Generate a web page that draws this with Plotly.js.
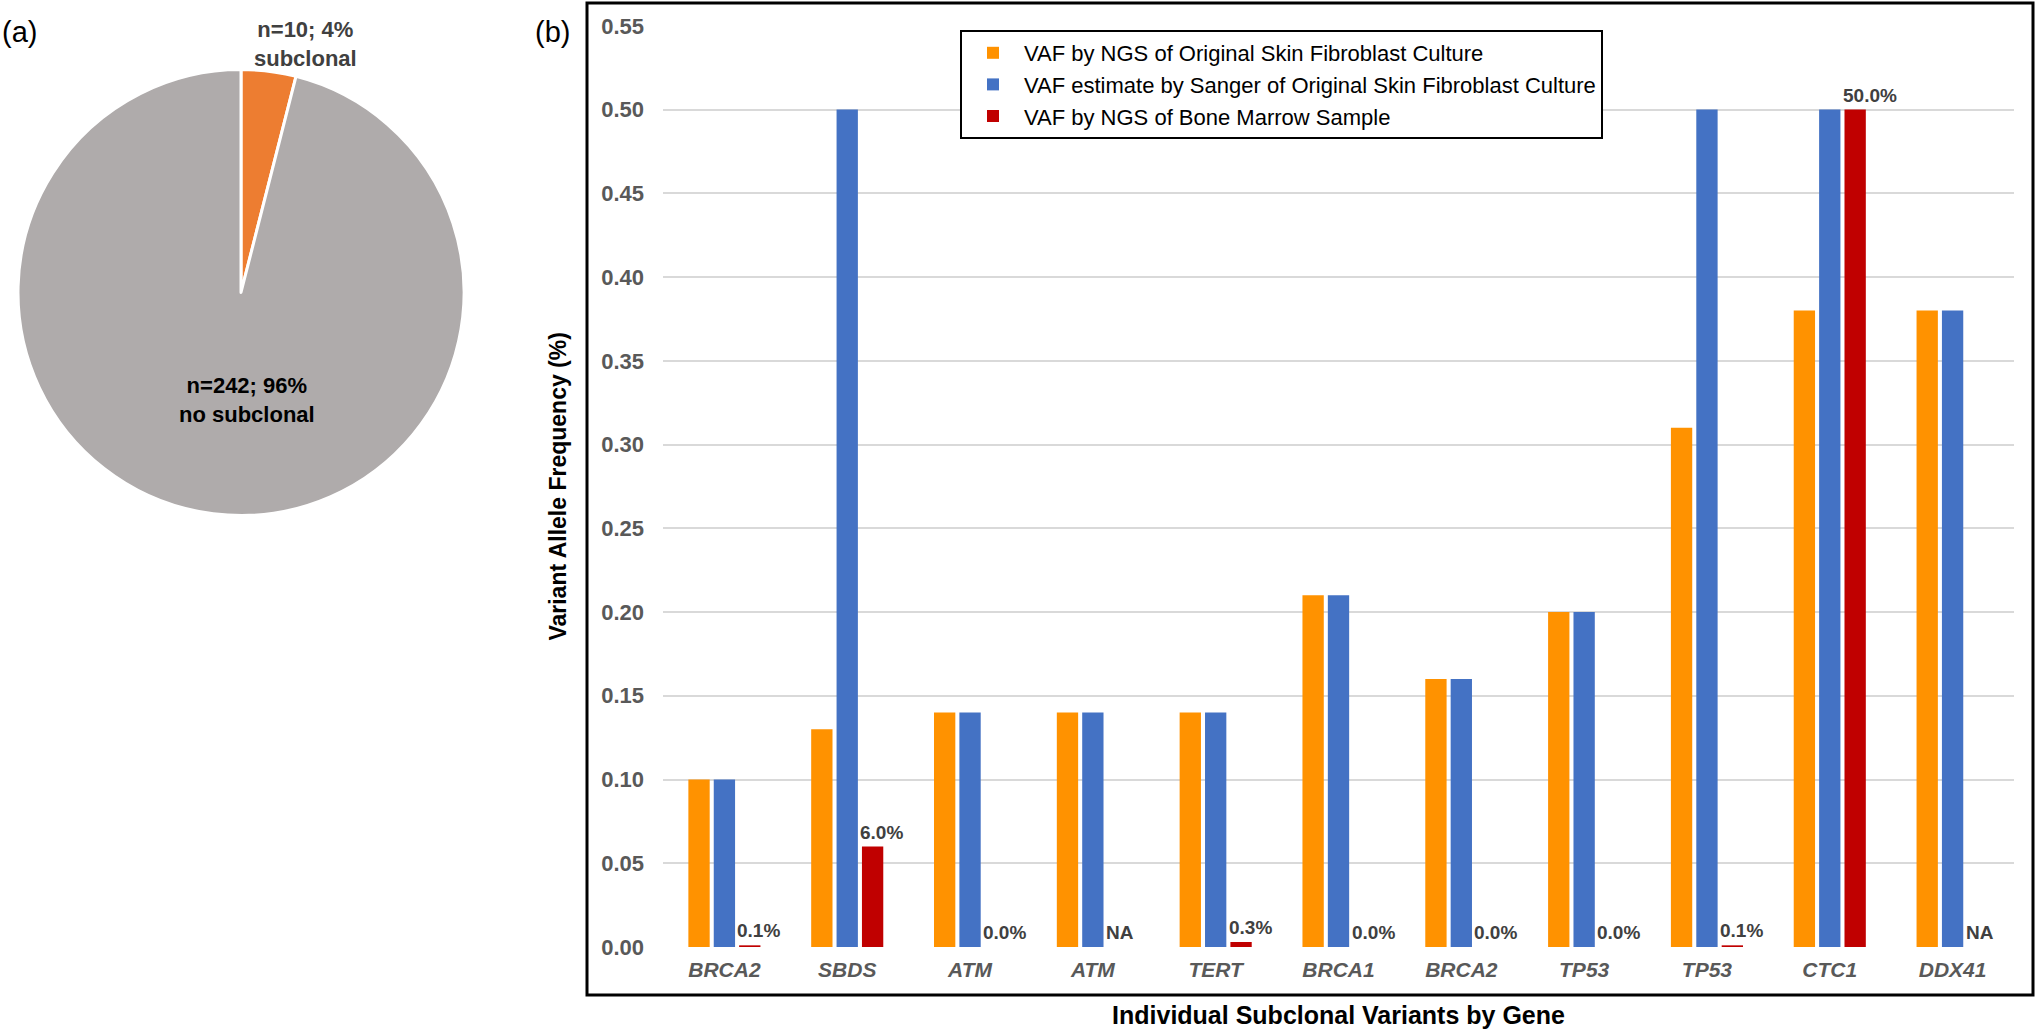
<!DOCTYPE html>
<html>
<head>
<meta charset="utf-8">
<script src="https://cdn.plot.ly/plotly-3.0.1.min.js"></script>
<style>html,body{margin:0;padding:0;background:#fff;}#chart{width:2040px;height:1034px;}</style>
</head>
<body>
<div id="chart"></div>
<script>
// ---- Panel (a) data ----
var pieLabels = ['subclonal', 'no subclonal'];
var pieCounts = [10, 242];
var piePercents = ['4%', '96%'];

// ---- Panel (b) data ----
var genes = ['BRCA2', 'SBDS', 'ATM', 'ATM', 'TERT', 'BRCA1', 'BRCA2', 'TP53', 'TP53', 'CTC1', 'DDX41'];
var vafNgsSkin = [0.10, 0.13, 0.14, 0.14, 0.14, 0.21, 0.16, 0.20, 0.31, 0.38, 0.38];
var vafSangerSkin = [0.10, 0.50, 0.14, 0.14, 0.14, 0.21, 0.16, 0.20, 0.50, 0.50, 0.38];
var vafNgsMarrow = [0.001, 0.06, 0.0, null, 0.003, 0.0, 0.0, 0.0, 0.001, 0.50, null];
var marrowLabels = ['0.1%', '6.0%', '0.0%', 'NA', '0.3%', '0.0%', '0.0%', '0.0%', '0.1%', '50.0%', 'NA'];
var seriesNames = [
  'VAF by NGS of Original Skin Fibroblast Culture',
  'VAF estimate by Sanger of Original Skin Fibroblast Culture',
  'VAF by NGS of Bone Marrow Sample'
];
var yTicks = [0, 0.05, 0.10, 0.15, 0.20, 0.25, 0.30, 0.35, 0.40, 0.45, 0.50, 0.55];

var FONT = 'Arial, "Liberation Sans", sans-serif';
var W = 2040, H = 1034;
function px(x) { return x / W; }
function py(y) { return 1 - y / H; }

var idx = genes.map(function (g, i) { return i; });

var traces = [
  {
    type: 'pie',
    values: pieCounts,
    labels: pieLabels,
    sort: false,
    direction: 'clockwise',
    rotation: 0,
    textinfo: 'none',
    hoverinfo: 'label+value+percent',
    showlegend: false,
    marker: { colors: ['#ED7D31', '#AFABAB'], line: { color: '#FFFFFF', width: 3 } },
    domain: { x: [px(18), px(464)], y: [py(516), py(69)] }
  },
  {
    type: 'bar', name: seriesNames[0], x: idx, y: vafNgsSkin,
    marker: { color: '#FF9200', line: { width: 0 } }
  },
  {
    type: 'bar', name: seriesNames[1], x: idx, y: vafSangerSkin,
    marker: { color: '#4472C4', line: { width: 0 } }
  },
  {
    type: 'bar', name: seriesNames[2], x: idx, y: vafNgsMarrow,
    marker: { color: '#C00000', line: { width: 0 } }
  }
];

var annotations = [
  { text: '(a)', x: px(0), y: py(32), xref: 'paper', yref: 'paper', xanchor: 'left', yanchor: 'middle', showarrow: false, font: { family: FONT, size: 29, color: '#000' } },
  { text: '(b)', x: px(533), y: py(32), xref: 'paper', yref: 'paper', xanchor: 'left', yanchor: 'middle', showarrow: false, font: { family: FONT, size: 29, color: '#000' } },
  { text: 'n=' + pieCounts[0] + '; ' + piePercents[0] + '<br>' + pieLabels[0], x: px(305), y: py(44), xref: 'paper', yref: 'paper', xanchor: 'center', yanchor: 'middle', showarrow: false, font: { family: FONT, size: 22, color: '#404040', weight: 'bold' } },
  { text: 'n=' + pieCounts[1] + '; ' + piePercents[1] + '<br>' + pieLabels[1], x: px(247), y: py(400), xref: 'paper', yref: 'paper', xanchor: 'center', yanchor: 'middle', showarrow: false, font: { family: FONT, size: 22, color: '#000', weight: 'bold' } }
];
marrowLabels.forEach(function (lab, i) {
  annotations.push({
    text: lab, x: i, y: vafNgsMarrow[i] === null ? 0 : vafNgsMarrow[i],
    xref: 'x', yref: 'y', xanchor: 'left', yanchor: 'bottom', xshift: 11, yshift: 2,
    showarrow: false, font: { family: FONT, size: 19, color: '#404040', weight: 'bold' }
  });
});

var layout = {
  width: W, height: H,
  margin: { l: 0, r: 0, t: 0, b: 0 },
  paper_bgcolor: '#FFFFFF', plot_bgcolor: '#FFFFFF',
  font: { family: FONT, color: '#000' },
  barmode: 'group', bargap: 0.38, bargroupgap: 0.16,
  xaxis: {
    domain: [px(663), px(2014)],
    range: [-0.5, genes.length - 0.5],
    tickmode: 'array', tickvals: idx, ticktext: genes,
    ticks: '', showgrid: false, zeroline: false, showline: false,
    ticklabelstandoff: 8,
    tickfont: { family: FONT, size: 21, color: '#595959', weight: 'bold', style: 'italic' },
    title: { text: 'Individual Subclonal Variants by Gene', standoff: 26, font: { family: FONT, size: 25, color: '#000', weight: 'bold' } }
  },
  yaxis: {
    domain: [py(947), py(25.7)],
    range: [0, 0.5501],
    tickmode: 'array', tickvals: yTicks, tickformat: '.2f',
    ticks: '', showgrid: true, gridcolor: '#D9D9D9', gridwidth: 2,
    zeroline: false, showline: false,
    ticklabelstandoff: 18,
    tickfont: { family: FONT, size: 22, color: '#595959', weight: 'bold' },
    title: { text: 'Variant Allele Frequency (%)', standoff: 28, font: { family: FONT, size: 23, color: '#000', weight: 'bold' } }
  },
  showlegend: true,
  legend: {
    x: px(960), y: py(30), xanchor: 'left', yanchor: 'top',
    bgcolor: '#FFFFFF', bordercolor: '#000000', borderwidth: 2,
    font: { family: FONT, size: 22, color: '#000' },
    itemwidth: 52, tracegroupgap: 0
  },
  shapes: [
    { type: 'rect', xref: 'paper', yref: 'paper', x0: px(587), x1: px(2033), y0: py(995), y1: py(3), line: { color: '#000', width: 3 }, fillcolor: 'rgba(0,0,0,0)', layer: 'below' }
  ],
  annotations: annotations
};

Plotly.newPlot('chart', traces, layout, { displayModeBar: false, staticPlot: true });
</script>
</body>
</html>
